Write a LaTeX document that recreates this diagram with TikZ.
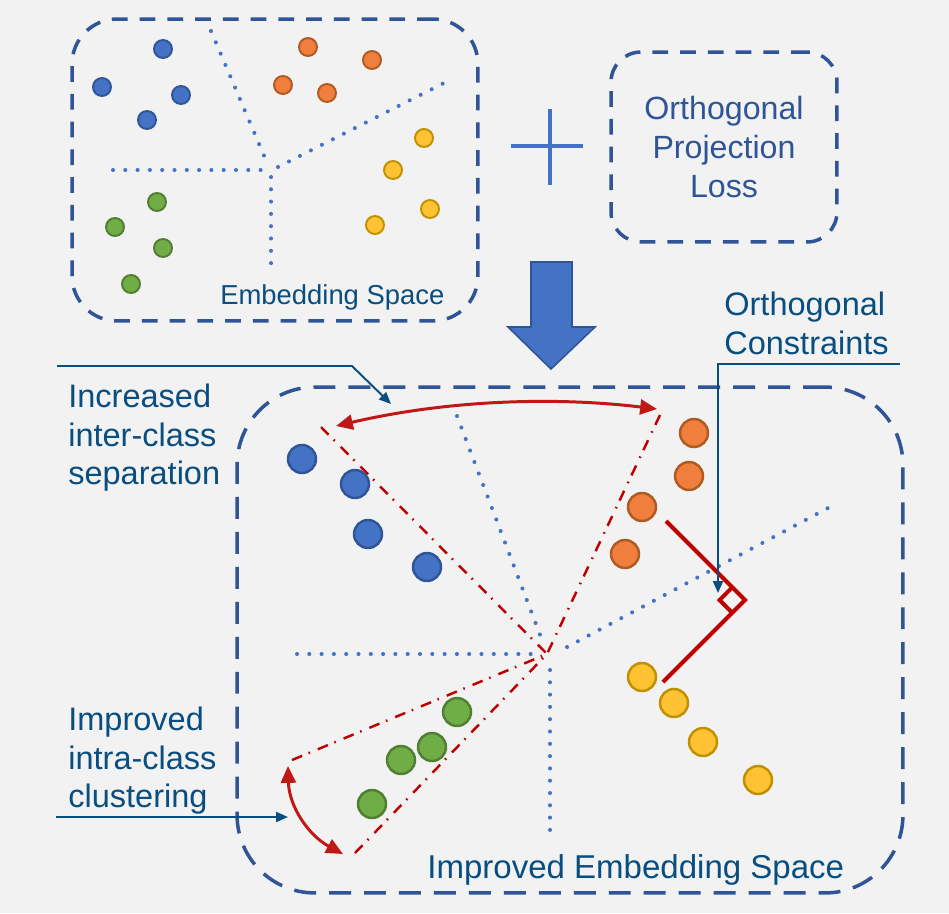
\documentclass[tikz,border=0pt]{standalone}
\usepackage{fontspec}
\setmainfont{Liberation Sans}
\usetikzlibrary{arrows.meta}
\definecolor{bg}{HTML}{F2F2F2}
\definecolor{boxblue}{HTML}{2F5597}
\definecolor{lblue}{HTML}{4472C4}
\definecolor{lbl}{RGB}{8,78,128}
\definecolor{redc}{HTML}{C00000}
\definecolor{arrred}{RGB}{192,24,20}
\definecolor{bfill}{HTML}{4472C4}\definecolor{bdraw}{HTML}{2F5597}
\definecolor{ofill}{HTML}{F07F3E}\definecolor{odraw}{HTML}{AE5A21}
\definecolor{yfill}{HTML}{FFC233}\definecolor{ydraw}{HTML}{BF9000}
\definecolor{gfill}{HTML}{70AD47}\definecolor{gdraw}{HTML}{507E32}
\tikzset{
  dbox/.style={draw=boxblue, line width=2pt, dash pattern=on 9pt off 6.8pt, inner sep=0pt},
  sdot/.style={circle, inner sep=0pt, minimum size=0.36cm, line width=1.1pt},
  bdot/.style={circle, inner sep=0pt, minimum size=0.56cm, line width=1.4pt},
  cb/.style={fill=bfill, draw=bdraw}, co/.style={fill=ofill, draw=odraw},
  cy/.style={fill=yfill, draw=ydraw}, cg/.style={fill=gfill, draw=gdraw},
  dotline/.style={lblue, line width=2.3pt, line cap=round, dash pattern=on 0pt off 7pt},
  dashdot/.style={redc, line width=1.4pt, dash pattern=on 6.2pt off 4pt on 0.9pt off 4.8pt},
  redarrow/.style={arrred, line width=1.7pt, {Triangle[length=9.6pt,width=8.5pt]}-{Triangle[length=9.6pt,width=8.5pt]}},
  lblarrow/.style={lbl, line width=1.1pt, -{Triangle[length=6.8pt,width=5.7pt]}},
  lbltext/.style={lbl, inner sep=0pt, align=left, font=\fontsize{18.5pt}{21.7pt}\selectfont},
}
\begin{document}
\begin{tikzpicture}[x=0.02cm, y=-0.02cm]
\fill[bg] (0,0) rectangle (949,913);
\useasboundingbox (0,0) rectangle (949,913);

% ---------- top-left embedding space ----------
\node[dbox, rounded corners=0.9cm, minimum width=8.12cm, minimum height=6.04cm] (emb) at (275,170) {};
\draw[dotline] (211,31) -- (265,158);
\draw[dotline] (113,170) -- (261,170);
\draw[dotline] (271,177) -- (271,264);
\draw[dotline] (278,167) -- (444,83);
\node[sdot, cb] (b1) at (163,49) {};
\node[sdot, cb] (b2) at (102,87) {};
\node[sdot, cb] (b3) at (181,95) {};
\node[sdot, cb] (b4) at (147,120) {};
\node[sdot, co] (o1) at (308,47) {};
\node[sdot, co] (o2) at (372,60) {};
\node[sdot, co] (o3) at (283,85) {};
\node[sdot, co] (o4) at (327,93) {};
\node[sdot, cy] (y1) at (424,138) {};
\node[sdot, cy] (y2) at (393,170) {};
\node[sdot, cy] (y3) at (430,209) {};
\node[sdot, cy] (y4) at (375,225) {};
\node[sdot, cg] (g1) at (157,202) {};
\node[sdot, cg] (g2) at (115,227) {};
\node[sdot, cg] (g3) at (163,248) {};
\node[sdot, cg] (g4) at (131,284) {};
\node[lbl, inner sep=0pt, anchor=base west, font=\fontsize{15.6pt}{18pt}\selectfont] (embtxt) at (220,304) {Embedding Space};

% ---------- plus ----------
\draw[lblue, line width=2.8pt] (511,146) -- (583,146);
\draw[lblue, line width=2.8pt] (550,109) -- (550,185);

% ---------- loss box ----------
\node[dbox, rounded corners=0.6cm, minimum width=4.52cm, minimum height=3.8cm] (opl) at (724,147) {};
\node[boxblue, inner sep=0pt, align=center, anchor=north, font=\fontsize{18.3pt}{22.1pt}\selectfont] (opltxt) at (724,96) {Orthogonal\\Projection\\Loss};

% ---------- big arrow ----------
\draw[fill=lblue, draw=boxblue, line width=0.9pt] (531,262) -- (572,262) -- (572,327) -- (595,327) -- (551,369) -- (508,327) -- (531,327) -- cycle;

% ---------- improved embedding space ----------
\node[dbox, rounded corners=1.56cm, minimum width=13.32cm, minimum height=10.12cm, dash pattern=on 12.5pt off 7.4pt] (big) at (570,640) {};
\coordinate (c) at (547,654);
\draw[dotline] (457,416) -- (542,640);
\draw[dotline] (297,654) -- (538,654);
\draw[dotline] (550,670) -- (550,840);
\draw[dotline] (567,647) -- (828,508);

\draw[dashdot] (321,427) -- (c);
\draw[dashdot] (660,415) -- (c);
\draw[dashdot] (292,760) -- (c);
\draw[dashdot] (355,853) -- (c);

\node[bdot, cb] (B1) at (302,459) {};
\node[bdot, cb] (B2) at (355,484) {};
\node[bdot, cb] (B3) at (368,534) {};
\node[bdot, cb] (B4) at (427,567) {};
\node[bdot, co] (O1) at (694,433) {};
\node[bdot, co] (O2) at (689,476) {};
\node[bdot, co] (O3) at (642,507) {};
\node[bdot, co] (O4) at (625,554) {};
\node[bdot, cy] (Y1) at (642,677) {};
\node[bdot, cy] (Y2) at (674,703) {};
\node[bdot, cy] (Y3) at (703,742) {};
\node[bdot, cy] (Y4) at (758,780) {};
\node[bdot, cg] (G1) at (457,712) {};
\node[bdot, cg] (G2) at (432,747) {};
\node[bdot, cg] (G3) at (401,760) {};
\node[bdot, cg] (G4) at (372,804) {};

% right angle
\coordinate (v) at (745,600);
\draw[redc, line width=2.3pt] (666,521) -- (v) -- (663,682);
\draw[redc, line width=2.3pt] (732.3,587.3) -- (719.6,600) -- (732.3,612.7);

% red double arrows
\coordinate (ra1) at (657,409);
\coordinate (ra2) at (336,426);
\draw[redarrow] (ra1) .. controls (550,396) and (443,401) .. (ra2);
\coordinate (rb1) at (288,766);
\coordinate (rb2) at (343,854);
\draw[redarrow] (rb1) .. controls (289,806) and (308,835) .. (rb2);

\node[lbl, inner sep=0pt, anchor=base west, font=\fontsize{18.8pt}{21pt}\selectfont] (bigtxt) at (427,878) {Improved Embedding Space};

% ---------- labels ----------
\node[lbltext, anchor=north west] (inter) at (68,384) {Increased\\inter-class\\separation};
\coordinate (la0) at (57,366);
\coordinate (la1) at (352,366);
\coordinate (la2) at (391,404);
\draw[lblarrow] (la0) -- (la1) -- (la2);

\node[lbltext, anchor=north west] (orth) at (724,292) {Orthogonal\\Constraints};
\coordinate (lb0) at (900,364);
\coordinate (lb1) at (718,364);
\coordinate (lb2) at (718,593);
\draw[lblarrow] (lb0) -- (lb1) -- (lb2);

\node[lbltext, anchor=north west] (intra) at (68,707) {Improved\\intra-class\\clustering};
\coordinate (lc0) at (56,817);
\coordinate (lc1) at (288,817);
\draw[lblarrow] (lc0) -- (lc1);
\end{tikzpicture}
\end{document}
